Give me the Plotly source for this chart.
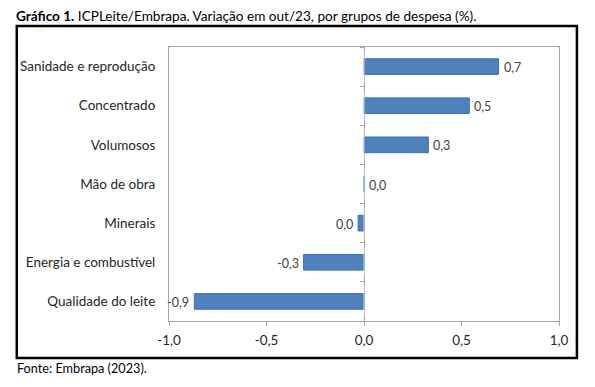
import plotly.graph_objects as go

categories = ["Sanidade e reprodução", "Concentrado", "Volumosos", "Mão de obra",
              "Minerais", "Energia e combustível", "Qualidade do leite"]
values = [0.69, 0.54, 0.33, 0.0, -0.03, -0.31, -0.87]
x_ticks = [-1.0, -0.5, 0.0, 0.5, 1.0]

def fmt(v):
    s = f"{v:.1f}".replace(".", ",")
    return "0,0" if s == "-0,0" else s

labels = [fmt(v) for v in values]
tick_text = [fmt(v) for v in x_ticks]

FONT = "Lato"
OFF = 8  # page body margin
W, H = 595 - OFF, 387 - OFF
L, R, T, B = 167 - OFF, 559 - OFF, 47 - OFF, 321 - OFF
pw, ph = R - L, B - T

def px(x):
    return (x - OFF - L) / pw

def py(y):
    return (B - (y - OFF)) / ph

fig = go.Figure()
fig.add_trace(go.Bar(
    y=categories, x=values, orientation="h",
    marker=dict(color="#4F81BD", line=dict(color="#3F70AA", width=1)),
    width=0.4,
    hoverinfo="skip",
))

for c, v, t in zip(categories, values, labels):
    pos = v >= 0
    fig.add_annotation(x=v, y=c, xref="x", yref="y", text=t, showarrow=False,
                       xanchor="left" if pos else "right",
                       xshift=3 if pos else -3, yshift=-1,
                       font=dict(family=FONT, size=12.5, color="#404040"))

fig.update_layout(
    width=W, height=H,
    margin=dict(l=L, r=W - R, t=T, b=H - B),
    paper_bgcolor="white", plot_bgcolor="white",
    showlegend=False,
    font=dict(family=FONT, size=13.5, color="#262626"),
    xaxis=dict(
        range=[-1, 1], tickvals=x_ticks, ticktext=tick_text,
        showgrid=False, zeroline=True, zerolinecolor="#A0A0A0", zerolinewidth=1,
        showline=True, linecolor="#A6A6A6", linewidth=1, mirror=True,
        ticks="outside", ticklen=4, tickcolor="#A6A6A6",
        tickfont=dict(family=FONT, size=13.5, color="#262626"),
        ticklabelstandoff=3,
    ),
    yaxis=dict(
        categoryorder="array", categoryarray=categories, autorange="reversed",
        showgrid=False, zeroline=False,
        showline=True, linecolor="#A6A6A6", linewidth=1, mirror=True,
        ticks="", ticklabelstandoff=10,
        tickfont=dict(family=FONT, size=13.5, color="#262626"),
    ),
    yaxis2=dict(
        overlaying="y", matches="y", anchor="free", position=0.5,
        type="category", categoryarray=categories, categoryorder="array",
        tickson="boundaries", ticks="outside", ticklen=4, tickcolor="#A6A6A6",
        showticklabels=False, showline=False, showgrid=False, zeroline=False,
        side="left",
    ),
)

fig.add_trace(go.Bar(y=categories, x=[0] * len(categories), orientation="h",
                     yaxis="y2", marker=dict(color="rgba(0,0,0,0)"),
                     hoverinfo="skip", showlegend=False))

# outer black frame
fig.add_shape(type="rect", xref="paper", yref="paper",
              x0=px(14), x1=px(577), y0=py(358), y1=py(26),
              line=dict(color="black", width=2.5), layer="above")

fig.add_annotation(xref="paper", yref="paper", x=px(12), y=py(16),
                   xanchor="left", yanchor="middle", showarrow=False,
                   height=14, valign="middle", borderpad=0,
                   text="<b>Gráfico 1.</b> ICPLeite/Embrapa. Variação em out/23, por grupos de despesa (%).",
                   font=dict(family=FONT, size=13.6, color="black"))
fig.add_annotation(xref="paper", yref="paper", x=px(12), y=py(368),
                   xanchor="left", yanchor="middle", showarrow=False,
                   text="Fonte: Embrapa (2023).",
                   font=dict(family=FONT, size=12.7, color="black"))

fig.write_html("out.html")
